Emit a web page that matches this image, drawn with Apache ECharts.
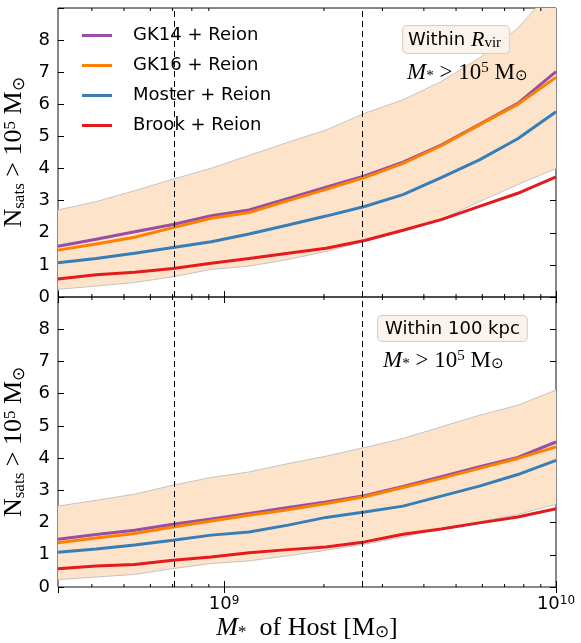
<!DOCTYPE html>
<html>
<head>
<meta charset="utf-8">
<script src="https://cdn.jsdelivr.net/npm/echarts@6/dist/echarts.min.js"></script>
<style>
  html, body { margin: 0; padding: 0; background: #fff; }
  #chart { width: 581px; height: 643px; }
</style>
</head>
<body>
<div id="chart"></div>
<script>
// host stellar masses (x) shared by every curve
const hostMass = [3.16e8, 4.12e8, 5.38e8, 7.02e8, 9.15e8, 1.19e9, 1.56e9, 2.03e9, 2.65e9, 3.46e9, 4.51e9, 5.88e9, 7.67e9, 1.0e10]

// top panel: within R_vir
const gk14Vir = [1.58, 1.80, 2.03, 2.26, 2.53, 2.71, 3.07, 3.42, 3.77, 4.20, 4.73, 5.38, 6.03, 7.02]
const gk16Vir = [1.46, 1.65, 1.86, 2.16, 2.45, 2.63, 3.00, 3.35, 3.72, 4.16, 4.71, 5.36, 6.00, 6.84]
const mosterVir = [1.07, 1.20, 1.36, 1.54, 1.72, 1.96, 2.24, 2.52, 2.82, 3.19, 3.72, 4.27, 4.93, 5.77]
const brookVir = [0.56, 0.69, 0.77, 0.89, 1.05, 1.20, 1.36, 1.52, 1.76, 2.08, 2.41, 2.82, 3.23, 3.74]
const upperVir = [2.71, 2.97, 3.31, 3.67, 4.01, 4.41, 4.82, 5.20, 5.72, 6.14, 6.71, 7.44, 8.37, 9.70]
const lowerVir = [0.24, 0.34, 0.45, 0.63, 0.86, 0.96, 1.17, 1.42, 1.73, 2.05, 2.42, 2.97, 3.50, 4.00]

// bottom panel: within 100 kpc
const gk14Kpc = [1.48, 1.63, 1.76, 1.95, 2.11, 2.28, 2.47, 2.64, 2.83, 3.12, 3.42, 3.73, 4.02, 4.50]
const gk16Kpc = [1.37, 1.52, 1.66, 1.86, 2.05, 2.23, 2.40, 2.59, 2.80, 3.09, 3.37, 3.68, 3.99, 4.35]
const mosterKpc = [1.08, 1.18, 1.30, 1.45, 1.61, 1.71, 1.92, 2.16, 2.33, 2.51, 2.82, 3.13, 3.49, 3.93]
const brookKpc = [0.57, 0.65, 0.70, 0.83, 0.93, 1.06, 1.16, 1.24, 1.40, 1.64, 1.80, 1.99, 2.17, 2.43]
const upperKpc = [2.51, 2.69, 2.88, 3.16, 3.40, 3.57, 3.83, 4.06, 4.33, 4.61, 4.97, 5.33, 5.64, 6.11]
const lowerKpc = [0.23, 0.31, 0.39, 0.57, 0.73, 0.81, 0.97, 1.14, 1.33, 1.55, 1.82, 2.03, 2.25, 2.57]

const dashX = [7.1e8, 2.6e9]
const minorTicks = [4e8, 5e8, 6e8, 7e8, 8e8, 9e8, 2e9, 3e9, 4e9, 5e9, 6e9, 7e9, 8e9, 9e9]
const yTicks = [0, 1, 2, 3, 4, 5, 6, 7, 8]

const names = ['GK14 + Reion', 'GK16 + Reion', 'Moster + Reion', 'Brook + Reion']
const colors = ['#984ea3', '#ff7f00', '#377eb8', '#e41a1c']
const panels = [
  { lines: [gk14Vir, gk16Vir, mosterVir, brookVir], upper: upperVir, lower: lowerVir },
  { lines: [gk14Kpc, gk16Kpc, mosterKpc, brookKpc], upper: upperKpc, lower: lowerKpc }
]

const serif = 'Liberation Serif'
const sans = 'DejaVu Sans'
const mathRich = {
  n: { fontFamily: serif, fontSize: 26, color: '#000' },
  it: { fontFamily: serif, fontSize: 26, fontStyle: 'italic', color: '#000' },
  sb: { fontFamily: serif, fontSize: 17, color: '#000', verticalAlign: 'bottom' },
  sp: { fontFamily: serif, fontSize: 17, color: '#000', verticalAlign: 'top' }
}
const annRich = {
  n: { fontFamily: serif, fontSize: 23, color: '#000' },
  it: { fontFamily: serif, fontSize: 23, fontStyle: 'italic', color: '#000' },
  sb: { fontFamily: serif, fontSize: 15, color: '#000', verticalAlign: 'bottom' },
  sp: { fontFamily: serif, fontSize: 15, color: '#000', verticalAlign: 'top' }
}
const yName = '{n|N}{sb|sats}{n| > 10}{sp|5}{n| M}{sb|⊙}'
const massCut = '{it|M}{sb|*}{n| > 10}{sp|5}{n| M}{sb|⊙}'

const pairs = arr => hostMass.map((m, i) => [m, arr[i]])

const grids = [
  { left: 58, right: 25, top: 8, height: 289 },
  { left: 58, right: 25, top: 297, height: 290 }
]

const xAxes = []
const yAxes = []
const series = []

grids.forEach((g, gi) => {
  const bottom = gi === 1
  xAxes.push({
    type: 'log', gridIndex: gi, min: 3.1623e8, max: 1e10, logBase: 10,
    name: bottom ? '{it|M}{sb|*}{n|  of Host [M}{sb|⊙}{n|]}' : '',
    nameLocation: 'middle', nameGap: 28,
    nameTextStyle: { rich: mathRich },
    axisLine: { show: false },
    axisTick: { inside: true, length: 6, lineStyle: { color: '#000' } },
    splitLine: { show: false },
    axisLabel: {
      show: bottom, margin: 8, showMinLabel: false,
      formatter: v => {
        const e = Math.log10(v)
        return Math.abs(e - Math.round(e)) < 1e-6 ? '{b|10}{e|' + Math.round(e) + '}' : ''
      },
      rich: {
        b: { fontFamily: sans, fontSize: 18, color: '#000' },
        e: { fontFamily: sans, fontSize: 12, color: '#000', verticalAlign: 'top' }
      }
    }
  })
  // top ticks
  xAxes.push({
    type: 'log', gridIndex: gi, position: 'top', min: 3.1623e8, max: 1e10, logBase: 10,
    axisLine: { show: false }, axisLabel: { show: false }, splitLine: { show: false },
    axisTick: { inside: true, length: 6, lineStyle: { color: '#000' } }
  })
  yAxes.push({
    type: 'value', gridIndex: gi, min: 0, max: 9, interval: 1,
    name: yName, nameLocation: 'middle', nameGap: 29, nameRotate: 90,
    nameTextStyle: { rich: mathRich },
    axisLine: { show: false }, splitLine: { show: false },
    axisTick: { inside: true, length: 6, lineStyle: { color: '#000' } },
    axisLabel: {
      fontFamily: sans, fontSize: 18, color: '#000', margin: 8,
      formatter: v => (yTicks.indexOf(v) >= 0 ? String(v) : '')
    }
  })
  yAxes.push({
    type: 'value', gridIndex: gi, position: 'right', min: 0, max: 9, interval: 1,
    axisLine: { show: false }, splitLine: { show: false }, axisLabel: { show: false },
    axisTick: { inside: true, length: 6, lineStyle: { color: '#000' } }
  })

  const xi = gi * 2
  const yi = gi * 2
  const p = panels[gi]

  // shaded band
  series.push({
    type: 'custom', xAxisIndex: xi, yAxisIndex: yi, silent: true, clip: true, z: 1,
    data: [[hostMass[0], p.lower[0]]],
    renderItem: (params, api) => {
      const up = p.upper.map((v, i) => api.coord([hostMass[i], v]))
      const lo = p.lower.map((v, i) => api.coord([hostMass[i], v])).reverse()
      return {
        type: 'polygon',
        shape: { points: up.concat(lo) },
        style: { fill: '#fde3c9', stroke: null }
      }
    }
  })
  ;[p.upper, p.lower].forEach(edge => {
    series.push({
      type: 'line', xAxisIndex: xi, yAxisIndex: yi, data: pairs(edge), silent: true,
      symbol: 'none', z: 2, lineStyle: { color: '#c4c4c4', width: 1 }
    })
  })

  // minor log ticks, placed by the axis scale
  series.push({
    type: 'custom', xAxisIndex: xi, yAxisIndex: yi, silent: true, z: 5,
    data: minorTicks.map(v => [v, 0]),
    renderItem: (params, api) => {
      const b = api.coord([api.value(0), 0])
      const t = api.coord([api.value(0), 9])
      const st = { stroke: '#000', lineWidth: 1 }
      return {
        type: 'group',
        children: [
          { type: 'line', shape: { x1: b[0], y1: b[1], x2: b[0], y2: b[1] - 3 }, style: st },
          { type: 'line', shape: { x1: t[0], y1: t[1], x2: t[0], y2: t[1] + 3 }, style: st }
        ]
      }
    }
  })

  p.lines.forEach((arr, k) => {
    const s = {
      type: 'line', name: names[k], xAxisIndex: xi, yAxisIndex: yi,
      data: pairs(arr), symbol: 'none', z: 3 + k * 0.01,
      lineStyle: { color: colors[k], width: 3 }, itemStyle: { color: colors[k] }
    }
    if (k === 0) {
      s.markLine = {
        silent: true, symbol: 'none', label: { show: false },
        lineStyle: { color: '#000', type: [6, 4], width: 1 },
        data: dashX.map(x => ({ xAxis: x }))
      }
    }
    series.push(s)
  })
})

const chart = echarts.init(document.getElementById('chart'))
chart.setOption({
  animation: false,
  backgroundColor: '#fff',
  grid: grids.map(g => Object.assign({
    show: true, borderColor: '#111', borderWidth: 1, backgroundColor: 'transparent',
    containLabel: false, outerBoundsMode: 'none'
  }, g)),
  xAxis: xAxes,
  yAxis: yAxes,
  legend: {
    data: names, orient: 'vertical', left: 82, top: 25, padding: 0,
    icon: 'rect', itemWidth: 30, itemHeight: 3, itemGap: 9,
    textStyle: { fontFamily: sans, fontSize: 18, color: '#000', lineHeight: 21, padding: [0, 0, 0, 16] }
  },
  graphic: [
    {
      type: 'text', left: 402, top: 25, z: 10,
      style: {
        text: '{t|Within }{ri|R}{rs|vir}',
        rich: {
          t: { fontFamily: sans, fontSize: 18, color: '#000' },
          ri: { fontFamily: serif, fontSize: 22, fontStyle: 'italic', color: '#000' },
          rs: { fontFamily: serif, fontSize: 15, color: '#000', verticalAlign: 'bottom' }
        },
        backgroundColor: 'rgba(250,243,234,0.9)', borderColor: '#d6d0c8', borderWidth: 1,
        borderRadius: 4, padding: [3, 8, 2, 5]
      }
    },
    {
      type: 'text', left: 407, top: 61, z: 10,
      style: { text: massCut, rich: annRich }
    },
    {
      type: 'text', left: 377, top: 315, z: 10,
      style: {
        text: 'Within 100 kpc', fontFamily: sans, fontSize: 18, fill: '#000',
        backgroundColor: 'rgba(250,243,234,0.9)', borderColor: '#d6d0c8', borderWidth: 1,
        borderRadius: 4, padding: [4, 7, 3, 7]
      }
    },
    {
      type: 'text', left: 383, top: 349, z: 10,
      style: { text: massCut, rich: annRich }
    }
  ],
  series: series
})
</script>
</body>
</html>
